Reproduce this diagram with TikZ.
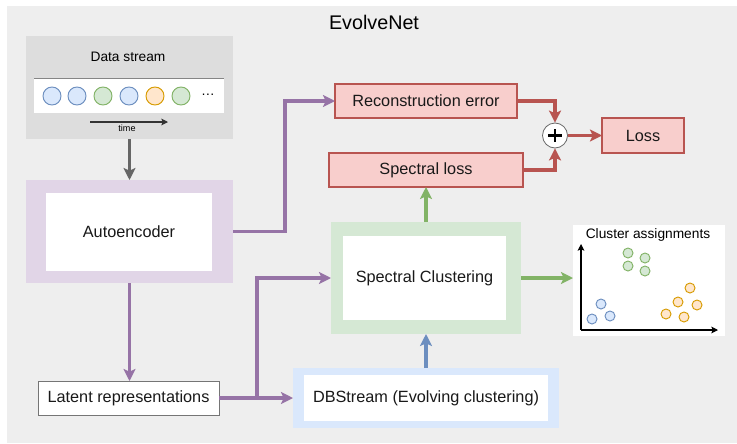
\documentclass[tikz,border=0pt]{standalone}
\usepackage{fontspec}
\setmainfont{Liberation Sans}
\usetikzlibrary{arrows.meta}

\definecolor{panelgray}{HTML}{EEEEEE}
\definecolor{dsgray}{HTML}{DDDDDD}
\definecolor{aefill}{HTML}{E1D5E7}
\definecolor{purp}{HTML}{9673A6}
\definecolor{redfill}{HTML}{F8CECC}
\definecolor{redline}{HTML}{B85450}
\definecolor{grnfill}{HTML}{D5E8D4}
\definecolor{grnline}{HTML}{82B366}
\definecolor{bluefill}{HTML}{DAE8FC}
\definecolor{blueline}{HTML}{6C8EBF}
\definecolor{orgfill}{HTML}{FFE6CC}
\definecolor{orgline}{HTML}{D79B00}
\definecolor{darkgray}{HTML}{666666}

\tikzset{
  sz/.style 2 args={minimum width={#1*0.75pt}, minimum height={#2*0.75pt}},
  blk/.style={rectangle, inner sep=0pt, outer sep=0pt, font=\fontsize{12.2}{14}\selectfont, text=black!90},
  redbox/.style={blk, fill=redfill, draw=redline, line width=0.8pt},
  conn/.style={line width=2.4pt, -{Stealth[length=9pt, width=9pt, inset=2pt]}},
  dot/.style={circle, inner sep=0pt, minimum size={#1*0.75pt}, line width=0.7pt},
  bluedot/.style={dot=10, fill=bluefill, draw=blueline},
  grndot/.style={dot=10, fill=grnfill, draw=grnline},
  orgdot/.style={dot=10, fill=orgfill, draw=orgline},
  bigblue/.style={dot=18, fill=bluefill, draw=blueline},
  biggrn/.style={dot=18, fill=grnfill, draw=grnline},
  bigorg/.style={dot=18, fill=orgfill, draw=orgline},
}

\begin{document}
\begin{tikzpicture}[x=0.75pt, y=-0.75pt]
  \useasboundingbox (0,0) rectangle (737,443);
  % background panel
  \fill[panelgray] (7,6) rectangle (737,443);
  \node[font=\fontsize{14.8}{17}\selectfont] (title) at (374,22) {EvolveNet};

  % data stream
  \node[blk, fill=dsgray, sz={207}{103}] (ds) at (129.5,87.5) {};
  \node[font=\fontsize{10.3}{12}\selectfont] (dslabel) at (128,57) {Data stream};
  \node[blk, fill=white, sz={190}{35}] (strip) at (129,95.5) {};
  \draw[darkgray!80, line width=0.6pt] (strip.north west) -- (strip.north east);
  \node[bigblue] (s1) at (52,96) {};
  \node[bigblue] (s2) at (77,96) {};
  \node[biggrn]  (s3) at (103,96) {};
  \node[bigblue] (s4) at (129,96) {};
  \node[bigorg]  (s5) at (155,96) {};
  \node[biggrn]  (s6) at (181,96) {};
  \node[font=\fontsize{10.3}{12}\selectfont] (more) at (208,95) {\dots};
  \coordinate (t0) at (90,122);
  \coordinate (t1) at (168,122);
  \draw[black!80, line width=0.8pt, -{Stealth[length=5pt, width=5pt, inset=1pt]}] (t0) -- (t1);
  \node[font=\fontsize{6.8}{8}\selectfont] (tlabel) at (127,128.5) {time};

  % autoencoder
  \node[blk, fill=aefill, sz={207}{103}] (ae) at (129.5,231.5) {};
  \node[blk, fill=white, sz={166}{78}] (aein) at (129,232) {Autoencoder};

  % latent representations
  \node[blk, fill=white, draw=darkgray!90, line width=0.6pt, sz={181}{34}] (lat) at (128.5,398) {Latent representations};

  % losses
  \node[redbox, sz={182}{34}] (rec) at (426,101) {Reconstruction error};
  \node[redbox, sz={194}{34}] (sl) at (426,170) {Spectral loss};
  \node[redbox, sz={82}{35}] (loss) at (643,135.5) {Loss};
  \node[circle, fill=white, draw=darkgray, line width=0.6pt, minimum size={25*0.75pt}, inner sep=0pt] (plus) at (555,135.5) {};
  \draw[black, line width=1.7pt] ([xshift=-5pt]plus.center) -- ([xshift=5pt]plus.center);
  \draw[black, line width=1.7pt] ([yshift=-5pt]plus.center) -- ([yshift=5pt]plus.center);

  % spectral clustering
  \node[blk, fill=grnfill, sz={190}{112}] (sc) at (426,278) {};
  \node[blk, fill=white, sz={163}{84}] (scin) at (424.5,278) {Spectral Clustering};

  % DBStream
  \node[blk, fill=bluefill, sz={266}{60}] (db) at (426,398) {};
  \node[blk, fill=white, sz={244}{46}] (dbin) at (426,398) {DBStream (Evolving clustering)};

  % cluster assignments
  \node[blk, fill=white, sz={152}{111}] (cl) at (649,280.5) {};
  \node[font=\fontsize{10.3}{12}\selectfont] (cltitle) at (648,235) {Cluster assignments};
  \coordinate (org) at (581,330);
  \coordinate (yend) at (581,244);
  \coordinate (xend) at (718,330);
  \draw[black, line width=0.8pt, -{Stealth[length=5pt, width=5pt, inset=1pt]}] (org) -- (yend);
  \draw[black, line width=0.8pt, -{Stealth[length=5pt, width=5pt, inset=1pt]}] (org) -- (xend);
  \node[grndot] (g1) at (628,253) {};
  \node[grndot] (g2) at (645,258) {};
  \node[grndot] (g3) at (628,266) {};
  \node[grndot] (g4) at (645,271) {};
  \node[bluedot] (b1) at (601,304) {};
  \node[bluedot] (b2) at (592,319) {};
  \node[bluedot] (b3) at (610,316) {};
  \node[orgdot] (o1) at (690,288) {};
  \node[orgdot] (o2) at (678,302) {};
  \node[orgdot] (o3) at (697,305) {};
  \node[orgdot] (o4) at (666,314) {};
  \node[orgdot] (o5) at (684,317) {};

  % connectors
  \draw[conn, darkgray] (ds.south) -- (ae.north);
  \draw[conn, purp] (ae.east) -- ++(52,0) |- (rec.west);
  \draw[conn, purp] (ae.south) -- (ae.south |- lat.north);
  \draw[conn, purp] (lat.east) -- (db.west);
  \coordinate (split) at (257,398);
  \draw[conn, purp] (split) |- (sc.west);
  \draw[conn, redline] (rec.east) -| (plus.north);
  \draw[conn, redline] (sl.east) -| (plus.south);
  \draw[conn, redline] (plus.east) -- (loss.west);
  \draw[conn, grnline] (sc.north) -- (sl.south);
  \draw[conn, grnline] (sc.east) -- (sc.east -| cl.west);
  \draw[conn, blueline] (db.north) -- (sc.south);
\end{tikzpicture}
\end{document}
